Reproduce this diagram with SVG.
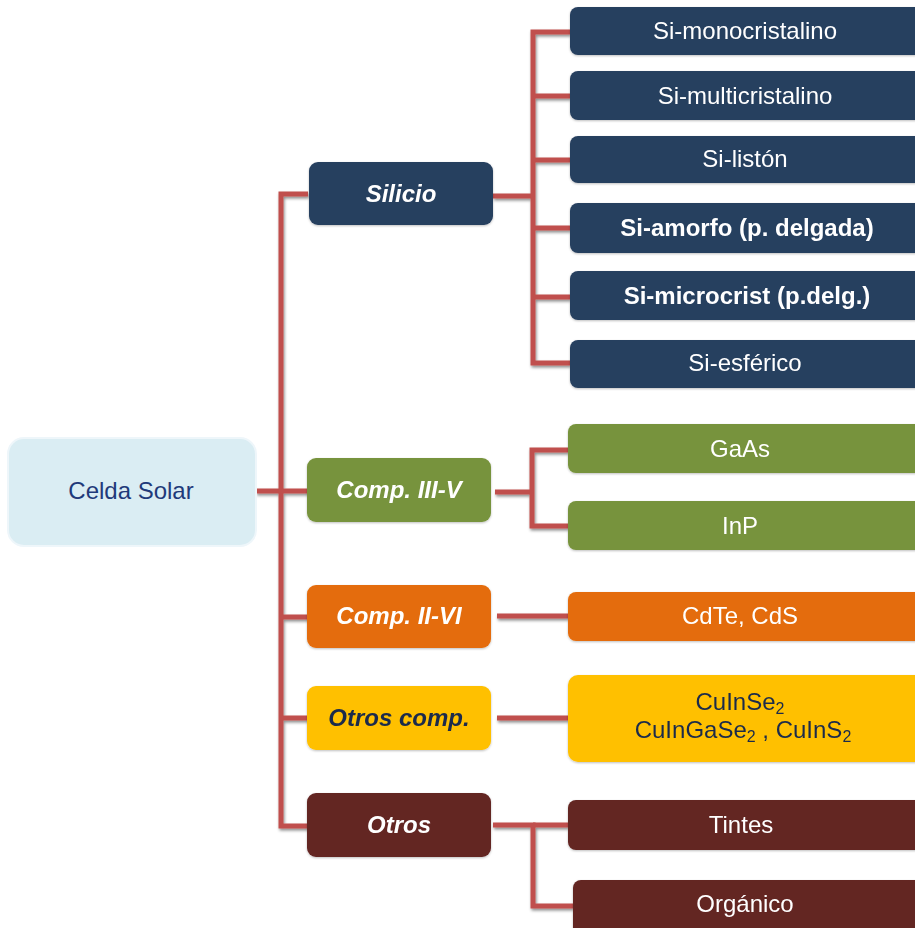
<svg xmlns="http://www.w3.org/2000/svg" width="915" height="928" viewBox="0 0 915 928">
<defs>
<filter id="sh" filterUnits="userSpaceOnUse" x="0" y="0" width="915" height="928">
<feDropShadow dx="1" dy="2" stdDeviation="1.5" flood-color="#000" flood-opacity="0.45"/>
</filter>
<filter id="bs" x="-5%" y="-10%" width="110%" height="130%">
<feDropShadow dx="0" dy="1" stdDeviation="1" flood-color="#000" flood-opacity="0.25"/>
</filter>
</defs>
<style>
text{font-family:"Liberation Sans",Arial,sans-serif;text-anchor:middle}
.c{fill:none;stroke:#c0504d;stroke-width:5}
.b{filter:url(#bs)}
.navy{fill:#253f5f}
.green{fill:#77933c}
.orange{fill:#e46c0a}
.yellow{fill:#ffc000}
.maroon{fill:#632523}
.l1{font-size:24px;font-weight:bold;font-style:italic;fill:#fff}
.l2{font-size:24px;fill:#fff}
.bold{font-weight:bold}
.dark{fill:#1a2b4c}
.sub{font-size:16px}
</style>
<g id="connectors" filter="url(#sh)">
<path class="c" d="M256 491 H281"/>
<path class="c" d="M308 194 H281 V826 H308"/>
<path class="c" d="M281 491 H308"/>
<path class="c" d="M281 617 H308"/>
<path class="c" d="M281 718 H308"/>
<path class="c" d="M493 196 H533"/>
<path class="c" d="M570 32 H533 V363 H570"/>
<path class="c" d="M533 96 H570"/>
<path class="c" d="M533 160 H570"/>
<path class="c" d="M533 228 H570"/>
<path class="c" d="M533 297 H570"/>
<path class="c" d="M495 492 H532"/>
<path class="c" d="M568 450 H532 V526 H568"/>
<path class="c" d="M497 616 H568"/>
<path class="c" d="M497 718 H568"/>
<path class="c" d="M493 825 H533 V906 H573"/>
<path class="c" d="M533 825 H568"/>
</g>
<g id="celda-solar">
<rect x="8" y="438" width="248" height="108" rx="16" fill="#daedf3" stroke="#eef6fa" stroke-width="2"/>
<text x="131" y="499" style="font-size:24px;fill:#1f3a7a">Celda Solar</text>
</g>
<g id="silicio" class="b">
<rect class="navy" x="309" y="162" width="184" height="63" rx="9"/>
<text class="l1" x="401" y="202">Silicio</text>
</g>
<g id="comp-iii-v" class="b">
<rect class="green" x="307" y="458" width="184" height="64" rx="9"/>
<text class="l1" x="399" y="498">Comp. III-V</text>
</g>
<g id="comp-ii-vi" class="b">
<rect class="orange" x="307" y="585" width="184" height="63" rx="9"/>
<text class="l1" x="399" y="624">Comp. II-VI</text>
</g>
<g id="otros-comp" class="b">
<rect class="yellow" x="307" y="686" width="184" height="64" rx="9"/>
<text class="l1 dark" x="399" y="726">Otros comp.</text>
</g>
<g id="otros" class="b">
<rect class="maroon" x="307" y="793" width="184" height="64" rx="9"/>
<text class="l1" x="399" y="833">Otros</text>
</g>
<g id="si-monocristalino" class="b">
<rect class="navy" x="570" y="7" width="360" height="48" rx="8"/>
<text class="l2" x="745" y="39">Si-monocristalino</text>
</g>
<g id="si-multicristalino" class="b">
<rect class="navy" x="570" y="71" width="360" height="49" rx="8"/>
<text class="l2" x="745" y="104">Si-multicristalino</text>
</g>
<g id="si-liston" class="b">
<rect class="navy" x="570" y="136" width="360" height="47" rx="8"/>
<text class="l2" x="745" y="167">Si-listón</text>
</g>
<g id="si-amorfo" class="b">
<rect class="navy" x="570" y="203" width="360" height="50" rx="8"/>
<text class="l2 bold" x="747" y="236">Si-amorfo (p. delgada)</text>
</g>
<g id="si-microcrist" class="b">
<rect class="navy" x="570" y="271" width="360" height="49" rx="8"/>
<text class="l2 bold" x="747" y="304">Si-microcrist (p.delg.)</text>
</g>
<g id="si-esferico" class="b">
<rect class="navy" x="570" y="340" width="360" height="48" rx="8"/>
<text class="l2" x="745" y="371">Si-esférico</text>
</g>
<g id="gaas" class="b">
<rect class="green" x="568" y="424" width="360" height="49" rx="8"/>
<text class="l2" x="740" y="457">GaAs</text>
</g>
<g id="inp" class="b">
<rect class="green" x="568" y="501" width="360" height="49" rx="8"/>
<text class="l2" x="740" y="534">InP</text>
</g>
<g id="cdte-cds" class="b">
<rect class="orange" x="568" y="592" width="360" height="49" rx="8"/>
<text class="l2" x="740" y="624">CdTe, CdS</text>
</g>
<g id="cuinse2" class="b">
<rect class="yellow" x="568" y="675" width="360" height="87" rx="10"/>
<text class="l2 dark" x="740" y="710">CuInSe<tspan class="sub" dy="4">2</tspan></text>
<text class="l2 dark" x="743" y="738">CuInGaSe<tspan class="sub" dy="4">2</tspan><tspan dy="-4"> , CuInS</tspan><tspan class="sub" dy="4">2</tspan></text>
</g>
<g id="tintes" class="b">
<rect class="maroon" x="568" y="800" width="360" height="50" rx="8"/>
<text class="l2" x="741" y="833">Tintes</text>
</g>
<g id="organico" class="b">
<rect class="maroon" x="573" y="880" width="360" height="60" rx="8"/>
<text class="l2" x="745" y="912">Orgánico</text>
</g>
</svg>
